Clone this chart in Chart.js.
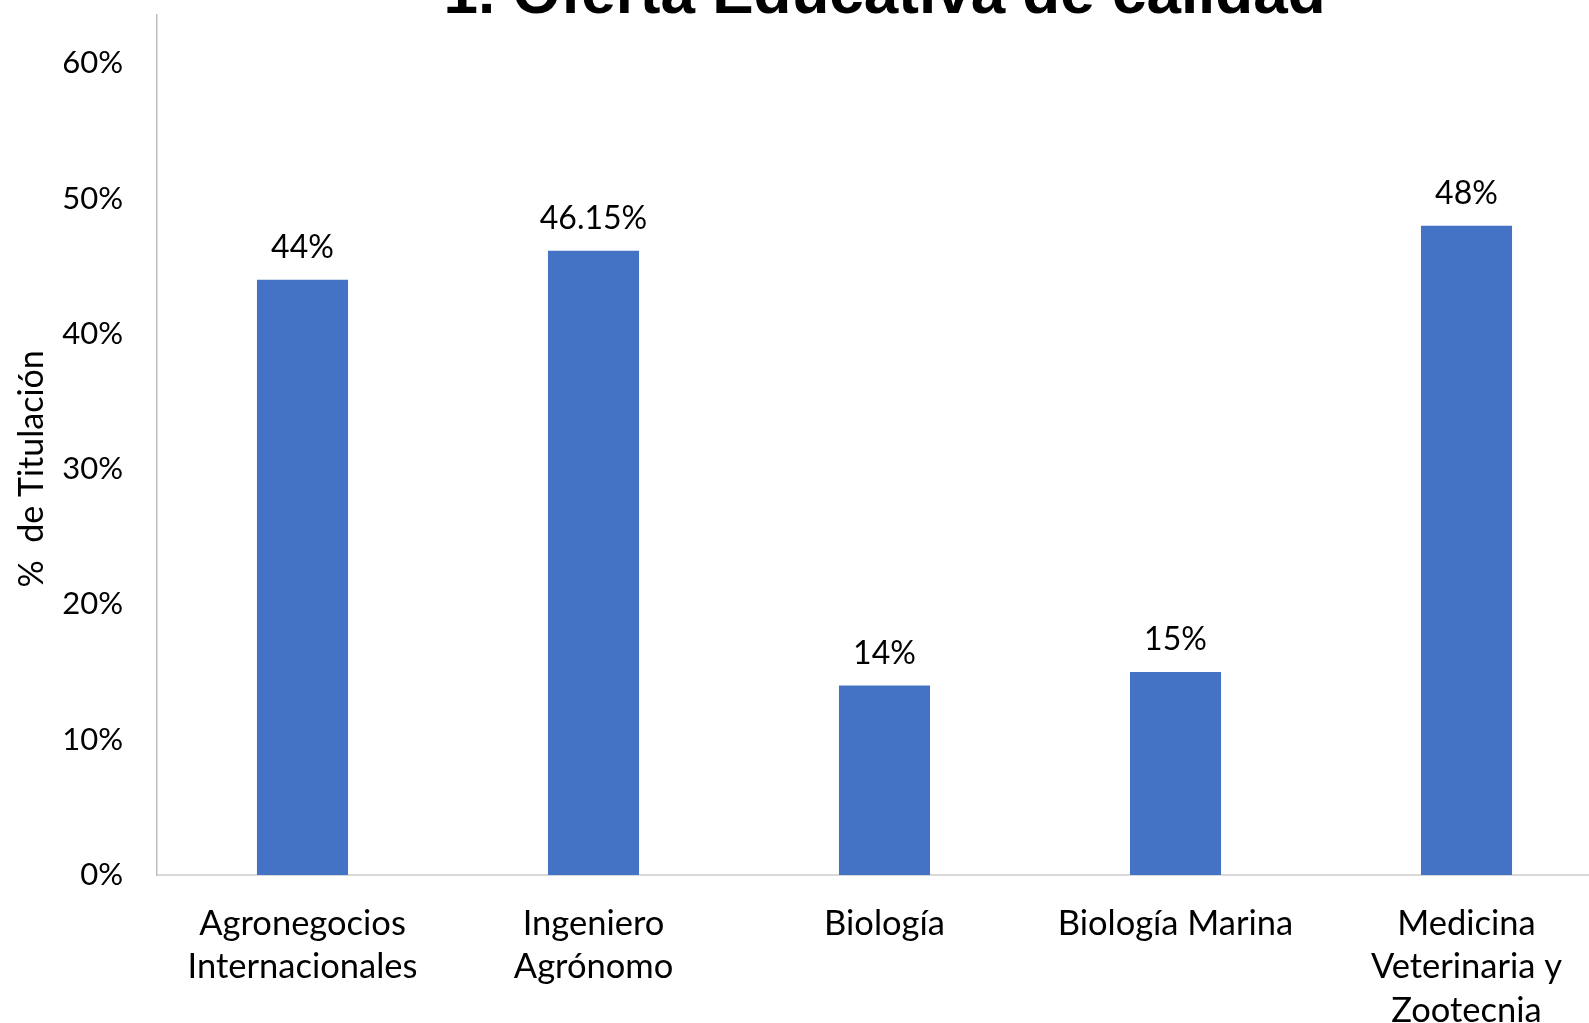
<!DOCTYPE html>
<html>
<head>
<meta charset="utf-8">
<script src="https://cdn.jsdelivr.net/npm/chart.js@4/dist/chart.umd.min.js"></script>
<style>
  html, body { margin: 0; padding: 0; background: #ffffff; overflow: hidden; width: 1589px; height: 1023px; }
  #wrap { position: absolute; left: 0; top: -38px; width: 1612px; height: 1077px; }
</style>
</head>
<body>
<div id="wrap"><canvas id="c"></canvas></div>
<script>
const categories = [
  ["Agronegocios", "Internacionales"],
  ["Ingeniero", "Agrónomo"],
  ["Biología"],
  ["Biología Marina"],
  ["Medicina", "Veterinaria y", "Zootecnia"]
];
const values = [44, 46.15, 14, 15, 48];
const valueLabels = ["44%", "46.15%", "14%", "15%", "48%"];
const chartTitle = "1. Oferta Educativa de calidad";
const yAxisTitle = "%  de Titulación";

const FONT = "Lato, 'Open Sans', sans-serif";

const extras = {
  id: 'extras',
  afterDatasetsDraw(chart) {
    const ctx = chart.ctx;
    const meta = chart.getDatasetMeta(0);
    ctx.save();
    ctx.fillStyle = '#000000';
    ctx.font = "32px " + FONT;
    ctx.textAlign = 'center';
    ctx.textBaseline = 'alphabetic';
    meta.data.forEach((bar, i) => {
      ctx.fillText(valueLabels[i], bar.x, bar.y - 22);
    });
    // y axis title
    const area = chart.chartArea;
    ctx.translate(32, (area.top + area.bottom) / 2 + 24);
    ctx.rotate(-Math.PI / 2);
    ctx.font = "34px " + FONT;
    ctx.textBaseline = 'middle';
    ctx.fillText(yAxisTitle, 0, 0);
    ctx.restore();
  }
};

new Chart(document.getElementById('c'), {
  type: 'bar',
  data: {
    labels: categories,
    datasets: [{
      data: values,
      backgroundColor: '#4472C4',
      borderWidth: 0,
      categoryPercentage: 1.0,
      barPercentage: 0.313
    }]
  },
  options: {
    responsive: true,
    maintainAspectRatio: false,
    animation: false,
    layout: { padding: 0 },
    plugins: {
      legend: { display: false },
      tooltip: { enabled: false },
      title: {
        display: true,
        fullSize: false,
        text: chartTitle,
        color: '#000000',
        font: { family: "'Liberation Sans', Arial, sans-serif", size: 62, weight: 'bold', lineHeight: 0.6 },
        padding: { top: 0, bottom: 0 }
      }
    },
    scales: {
      x: {
        grid: { display: false, drawTicks: false },
        border: { display: true, color: '#d9d9d9', width: 2 },
        ticks: {
          color: '#000000',
          padding: 27,
          maxRotation: 0,
          autoSkip: false,
          font: { family: FONT, size: 34.5, lineHeight: 1.26 }
        },
        afterFit(s) { s.height = 164; }
      },
      y: {
        min: 0,
        max: 63.6,
        grid: { display: false, drawTicks: false },
        border: { display: true, color: '#bfbfbf', width: 1.5 },
        ticks: {
          stepSize: 10,
          includeBounds: false,
          color: '#000000',
          padding: 34,
          font: { family: FONT, size: 31 },
          callback: v => v + '%'
        },
        afterFit(s) { s.width = 157; }
      }
    }
  },
  plugins: [extras]
});
</script>
</body>
</html>
